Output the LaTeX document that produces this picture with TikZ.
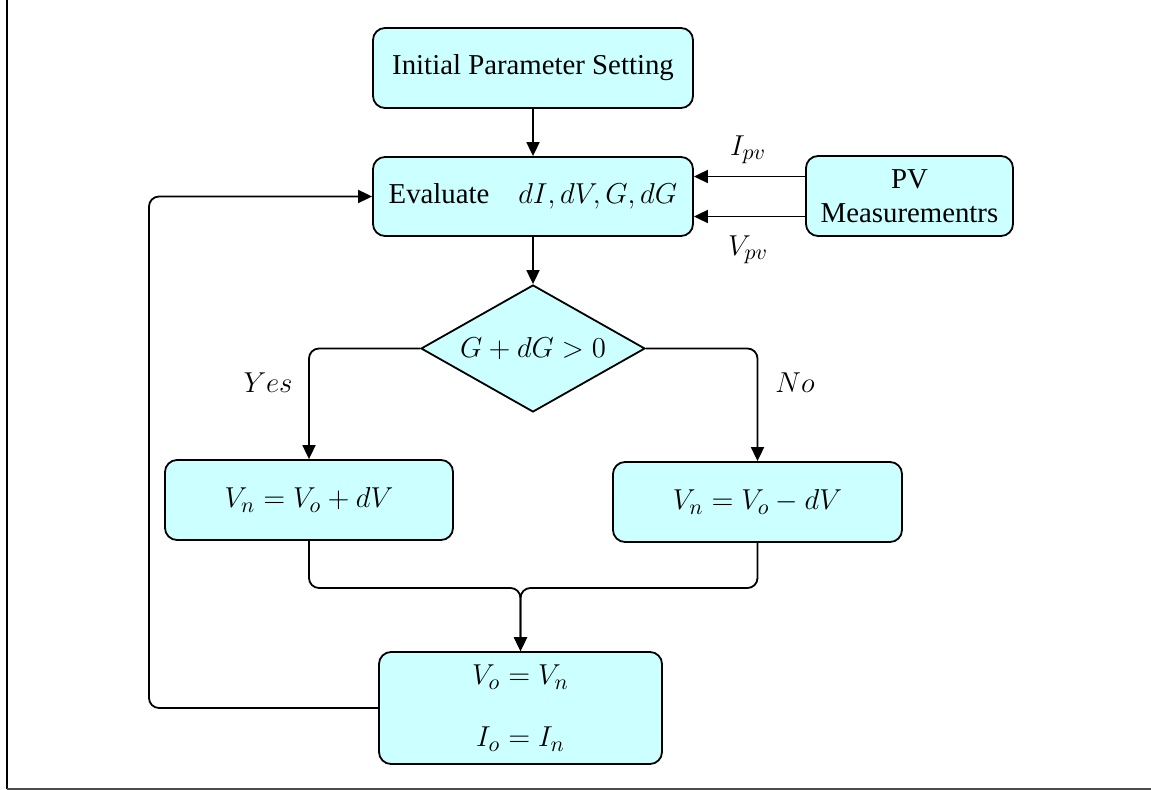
\documentclass[tikz,border=0pt]{standalone}
\usepackage{fontspec}
\setmainfont{Liberation Serif}
\usetikzlibrary{shapes.geometric,arrows.meta,calc}
\definecolor{boxfill}{HTML}{CCFFFF}
\newcommand{\mfs}{\fontsize{15}{18}\selectfont}
\begin{document}
\begin{tikzpicture}[x=0.5pt,y=-0.5pt,
  every node/.style={font=\fontsize{14.4}{17}\selectfont},
  box/.style={draw, line width=0.9pt, fill=boxfill, rounded corners=6pt, inner sep=0pt, align=center},
  conn/.style={line width=0.9pt, rounded corners=5pt},
  arr/.style={conn, -{Triangle[length=7pt,width=6.5pt]}},
  lbl/.style={inner sep=0pt, font=\mfs}]
\path[use as bounding box] (0,0) rectangle (1151,790);
\draw[line width=0.6pt] (7,0) -- (7,789);
\draw[line width=1pt, black!70] (7,789) -- (1151,789);

\node[box, minimum width=160pt, minimum height=40pt] (init) at (533,68) {Initial Parameter Setting};
\node[box, minimum width=160pt, minimum height=39.5pt] (eval) at (533,196.5) {Evaluate\quad {\mfs$dI, dV, G, dG$}};
\node[box, minimum width=103.5pt, minimum height=40pt] (pv) at (909.5,196) {PV\\Measurementrs};
\node[box, shape=diamond, sharp corners, aspect=1.76, minimum width=112pt, minimum height=63.5pt, font=\mfs] (dec) at (533,348.5) {$G + dG > 0$};
\node[box, minimum width=144pt, minimum height=40pt, font=\mfs] (yesb) at (309,500) {$V_n = V_o + dV$};
\node[box, minimum width=144.5pt, minimum height=40pt, font=\mfs] (nob) at (757.5,502) {$V_n = V_o - dV$};
\node[box, minimum width=141.5pt, minimum height=56pt, font=\mfs] (upd) at (520.5,708) {$V_o = V_n$\\[13pt]$I_o = I_n$};

\node[lbl] (lyes) at (268,383) {$Yes$};
\node[lbl] (lno) at (795,383) {$No$};
\node[lbl] (lipv) at (748,150) {$I_{pv}$};
\node[lbl] (lvpv) at (748,250) {$V_{pv}$};

\draw[arr] (init) -- (eval);
\draw[arr] (eval.south) -- (dec.north);
\draw[arr] (dec.west) -| (yesb.north);
\draw[arr] (dec.east) -| (nob.north);
\coordinate (m) at (520.5,588);
\draw[arr] (yesb.south) |- (m) -- (upd.north);
\draw[arr] (nob.south) |- (m) -- (upd.north);
\coordinate (fb) at (149,450);
\draw[arr] (upd.west) -| (fb) |- (eval.west);
\draw[arr] ([yshift=9.75pt]pv.west) -- ([yshift=9.75pt]pv.west -| eval.east);
\draw[arr] ([yshift=-10.25pt]pv.west) -- ([yshift=-10.25pt]pv.west -| eval.east);
\end{tikzpicture}
\end{document}
